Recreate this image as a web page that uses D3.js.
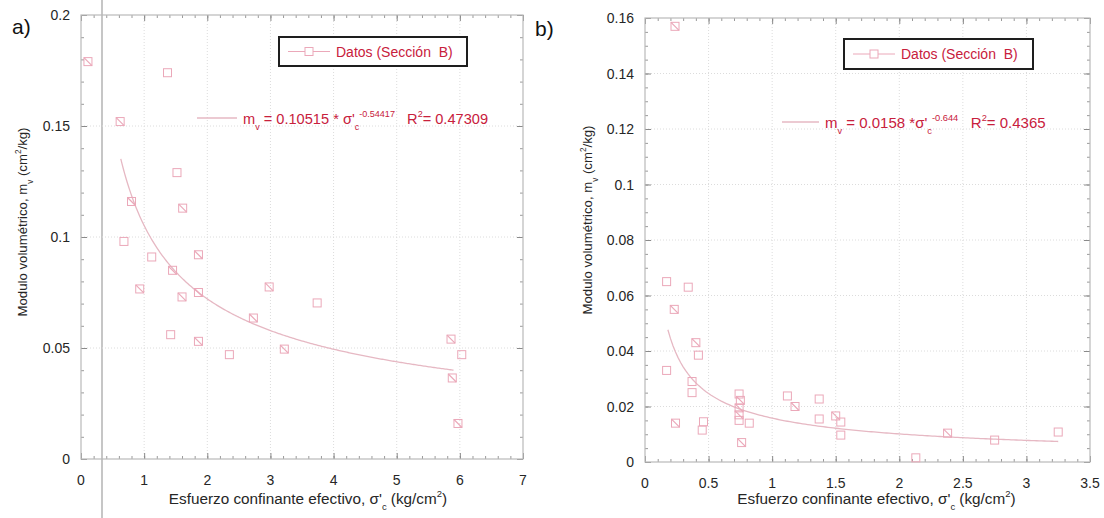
<!DOCTYPE html>
<html>
<head>
<meta charset="utf-8">
<script src="https://cdn.jsdelivr.net/npm/d3@7"></script>
<style>
  body { margin: 0; background: #fff; }
  svg { display: block; }
  text { font-family: "Liberation Sans", Arial, sans-serif; white-space: pre; }
</style>
</head>
<body>
<svg id="chart" width="1104" height="518"></svg>
<script>
// ---------- Panel a) : effective confining stress vs. volumetric modulus ----------
const sigmaA = [0.11, 1.37, 0.62, 1.52, 0.80, 1.61, 0.68, 1.12, 1.86, 1.45, 0.93, 1.60,
                1.86, 1.42, 1.86, 2.35, 2.73, 2.98, 3.74, 3.22, 5.86, 6.03, 5.88, 5.97];
const mvA    = [0.179, 0.174, 0.152, 0.129, 0.116, 0.113, 0.098, 0.091, 0.092, 0.085, 0.0766, 0.073,
                0.075, 0.056, 0.053, 0.047, 0.0635, 0.0775, 0.0703, 0.0495, 0.054, 0.047, 0.0365, 0.016];
const slashA = [1, 0, 1, 0, 1, 1, 0, 0, 1, 1, 1, 1, 1, 0, 1, 0, 1, 1, 0, 1, 1, 0, 1, 1];
const fitCoefA = 0.10515, fitExpA = -0.54417, fitR2A = "0.47309";
const fitRangeA = [0.63, 5.9];
const xTicksA = [0, 1, 2, 3, 4, 5, 6, 7];
const xTickLabelsA = ["0", "1", "2", "3", "4", "5", "6", "7"];
const yTicksA = [0, 0.05, 0.1, 0.15, 0.2];
const yTickLabelsA = ["0", "0.05", "0.1", "0.15", "0.2"];

// ---------- Panel b) ----------
const sigmaB = [0.236, 0.17, 0.34, 0.23, 0.40, 0.42, 0.17, 0.37, 0.37, 0.24, 0.46, 0.45,
                0.74, 0.75, 0.74, 0.74, 0.74, 0.82, 0.76, 1.12, 1.18, 1.37, 1.37, 1.50,
                1.54, 1.54, 2.13, 2.38, 2.75, 3.25];
const mvB    = [0.157, 0.065, 0.063, 0.055, 0.043, 0.0385, 0.033, 0.029, 0.025, 0.014, 0.0145, 0.0115,
                0.0245, 0.0222, 0.0195, 0.017, 0.015, 0.014, 0.007, 0.0238, 0.020, 0.0227, 0.0155, 0.0166,
                0.0144, 0.0097, 0.0015, 0.0104, 0.0079, 0.0108];
const slashB = [1, 0, 0, 1, 1, 0, 0, 0, 0, 1, 0, 0,
                0, 1, 1, 1, 0, 0, 1, 0, 1, 0, 0, 1,
                0, 0, 0, 1, 0, 0];
const fitCoefB = 0.0158, fitExpB = -0.644, fitR2B = "0.4365";
const fitRangeB = [0.18, 3.25];
const xTicksB = [0, 0.5, 1, 1.5, 2, 2.5, 3, 3.5];
const xTickLabelsB = ["0", "0.5", "1", "1.5", "2", "2.5", "3", "3.5"];
const yTicksB = [0, 0.02, 0.04, 0.06, 0.08, 0.1, 0.12, 0.14, 0.16];
const yTickLabelsB = ["0", "0.02", "0.04", "0.06", "0.08", "0.1", "0.12", "0.14", "0.16"];

const legendLabel = "Datos (Sección  B)";

// ---------- styling ----------
const RED = "#c8203c";
const MARK = "#eba8b9";
const FIT = "#e6b8c3";
const BORDER = "#b9b9b9";
const GRID = "#dcdcdc";
const TXT = "#262626";

const svg = d3.select("#chart");
svg.append("rect").attr("width", 1104).attr("height", 518).attr("fill", "#fff");

// Text with sub/superscript runs
function richText(parent, x, y, parts, size, color, extra) {
  const t = parent.append("text").attr("x", x).attr("y", y)
    .attr("font-size", size).attr("fill", color);
  if (extra) extra(t);
  let shift = 0;
  parts.forEach(p => {
    const target = p.sub ? size * 0.42 : p.sup ? -size * 0.48 : 0;
    t.append("tspan")
      .attr("dy", target - shift)
      .attr("font-size", (p.sub || p.sup) ? size * 0.62 : size)
      .text(p.t);
    shift = target;
  });
  return t;
}

function drawPanel(cfg) {
  const x = d3.scaleLinear().domain(cfg.xDomain).range([cfg.left, cfg.right]);
  const y = d3.scaleLinear().domain(cfg.yDomain).range([cfg.bottom, cfg.top]);
  const g = svg.append("g");

  // dotted grid at major ticks
  g.append("g").selectAll("line").data(cfg.xTicks.slice(1, -1)).join("line")
    .attr("x1", d => x(d)).attr("x2", d => x(d))
    .attr("y1", cfg.top).attr("y2", cfg.bottom)
    .attr("stroke", GRID).attr("stroke-dasharray", "1,2");
  g.append("g").selectAll("line").data(cfg.yTicks.slice(1, -1)).join("line")
    .attr("y1", d => y(d)).attr("y2", d => y(d))
    .attr("x1", cfg.left).attr("x2", cfg.right)
    .attr("stroke", GRID).attr("stroke-dasharray", "1,2");

  // axes: ticks pointing inward on all four sides
  const xMinor = d3.range(cfg.xDomain[0], cfg.xDomain[1] + 1e-9, cfg.xMinorStep);
  const yMinor = d3.range(cfg.yDomain[0], cfg.yDomain[1] + 1e-9, cfg.yMinorStep);
  const mkAxis = (axisFn, scale, vals, size) =>
    axisFn(scale).tickValues(vals).tickSize(size).tickFormat("");

  const axes = [
    [d3.axisTop, x, `translate(0,${cfg.bottom})`, "x"],
    [d3.axisBottom, x, `translate(0,${cfg.top})`, "x"],
    [d3.axisRight, y, `translate(${cfg.left},0)`, "y"],
    [d3.axisLeft, y, `translate(${cfg.right},0)`, "y"]
  ];
  axes.forEach(([fn, sc, tr, kind]) => {
    const major = kind === "x" ? cfg.xTicks : cfg.yTicks;
    const minor = kind === "x" ? xMinor : yMinor;
    const gm = g.append("g").attr("transform", tr).call(mkAxis(fn, sc, minor, 3));
    gm.select(".domain").remove();
    gm.selectAll("line").attr("stroke", "#9a9a9a");
    const gM = g.append("g").attr("transform", tr).call(mkAxis(fn, sc, major, 6));
    gM.select(".domain").remove();
    gM.selectAll("line").attr("stroke", "#8a8a8a");
  });

  // frame
  g.append("rect").attr("x", cfg.left).attr("y", cfg.top)
    .attr("width", cfg.right - cfg.left).attr("height", cfg.bottom - cfg.top)
    .attr("fill", "none").attr("stroke", BORDER).attr("stroke-width", 1.2);

  // tick labels
  g.append("g").selectAll("text").data(cfg.xTicks).join("text")
    .attr("x", d => x(d)).attr("y", cfg.bottom + 26)
    .attr("text-anchor", "middle").attr("font-size", 14).attr("fill", TXT)
    .text((d, i) => cfg.xTickLabels[i]);
  g.append("g").selectAll("text").data(cfg.yTicks).join("text")
    .attr("x", cfg.left - 11).attr("y", d => y(d) + 5)
    .attr("text-anchor", "end").attr("font-size", 14).attr("fill", TXT)
    .text((d, i) => cfg.yTickLabels[i]);

  // axis titles
  richText(g, (cfg.left + cfg.right) / 2 + cfg.xTitleDx, 504, [
    { t: "Esfuerzo confinante efectivo, σ'" }, { t: "c", sub: true }, { t: " (kg/cm" },
    { t: "2", sup: true }, { t: ")" }
  ], 15.3, TXT, t => t.attr("text-anchor", "middle"));
  richText(g, 0, 0, [
    { t: "Modulo volumétrico, m" }, { t: "v", sub: true }, { t: " (cm" },
    { t: "2", sup: true }, { t: "/kg)" }
  ], 13.2, TXT, t => t.attr("text-anchor", "middle")
      .attr("transform", `translate(${cfg.yTitleX},${cfg.yTitleY}) rotate(-90)`));

  // fitted power law
  const fitX = d3.range(cfg.fitRange[0], cfg.fitRange[1], 0.02).concat([cfg.fitRange[1]]);
  g.append("path")
    .datum(fitX.map(s => [s, cfg.fitCoef * Math.pow(s, cfg.fitExp)]))
    .attr("d", d3.line().x(d => x(d[0])).y(d => y(d[1])))
    .attr("fill", "none").attr("stroke", FIT).attr("stroke-width", 1.3);

  // data markers
  const pts = cfg.xs.map((s, i) => ({ s, m: cfg.ys[i], slash: cfg.slash[i] }));
  const mk = g.append("g").selectAll("g").data(pts).join("g")
    .attr("transform", d => `translate(${x(d.s)},${y(d.m)})`);
  mk.append("rect").attr("x", -4).attr("y", -4).attr("width", 8).attr("height", 8)
    .attr("fill", "none").attr("stroke", MARK).attr("stroke-width", 1);
  mk.filter(d => d.slash).append("line")
    .attr("x1", -4).attr("y1", -4).attr("x2", 4).attr("y2", 4)
    .attr("stroke", MARK).attr("stroke-width", 1.2);

  // legend box
  const L = cfg.legend;
  g.append("rect").attr("x", L.x).attr("y", L.y).attr("width", L.w).attr("height", L.h)
    .attr("fill", "#fff").attr("stroke", "#1e1e1e").attr("stroke-width", 2);
  g.append("line").attr("x1", L.x + 9).attr("x2", L.x + 51)
    .attr("y1", L.y + L.h / 2).attr("y2", L.y + L.h / 2)
    .attr("stroke", MARK).attr("stroke-width", 1);
  g.append("rect").attr("x", L.x + 26).attr("y", L.y + L.h / 2 - 4)
    .attr("width", 8).attr("height", 8).attr("fill", "#fff").attr("stroke", MARK);
  g.append("text").attr("x", L.x + 57).attr("y", L.y + L.h / 2 + 5)
    .attr("font-size", 14).attr("fill", RED).text(legendLabel);

  // equation with sample line
  const E = cfg.eq;
  g.append("line").attr("x1", E.lineX0).attr("x2", E.lineX1)
    .attr("y1", E.y - 6).attr("y2", E.y - 6)
    .attr("stroke", FIT).attr("stroke-width", 1.3);
  richText(g, E.x, E.y, E.parts, E.size, RED);

  // panel letter
  g.append("text").attr("x", cfg.tag.x).attr("y", cfg.tag.y)
    .attr("font-size", 21).attr("fill", "#111").text(cfg.tag.t);
}

// scanned-page fold line on the left
svg.append("line").attr("x1", 102).attr("x2", 102).attr("y1", 0).attr("y2", 518)
  .attr("stroke", "#c6c6c6").attr("stroke-width", 2);

drawPanel({
  xDomain: [0, 7], yDomain: [0, 0.2],
  left: 81, right: 523, top: 15, bottom: 459,
  xTicks: xTicksA, xTickLabels: xTickLabelsA, yTicks: yTicksA, yTickLabels: yTickLabelsA,
  xMinorStep: 0.2, yMinorStep: 0.01,
  xs: sigmaA, ys: mvA, slash: slashA,
  fitCoef: fitCoefA, fitExp: fitExpA, fitRange: fitRangeA,
  xTitleDx: 6, yTitleX: 27, yTitleY: 222,
  legend: { x: 279, y: 37, w: 188, h: 29 },
  eq: {
    lineX0: 197, lineX1: 237, x: 243, y: 124, size: 14.6,
    parts: [{ t: "m" }, { t: "v", sub: true }, { t: " = " + fitCoefA + " * σ'" }, { t: "c", sub: true },
            { t: String(fitExpA), sup: true }, { t: "   R" }, { t: "2", sup: true }, { t: "= " + fitR2A }]
  },
  tag: { x: 12, y: 34, t: "a)" }
});

drawPanel({
  xDomain: [0, 3.5], yDomain: [0, 0.16],
  left: 645, right: 1090, top: 18, bottom: 462,
  xTicks: xTicksB, xTickLabels: xTickLabelsB, yTicks: yTicksB, yTickLabels: yTickLabelsB,
  xMinorStep: 0.1, yMinorStep: 0.005,
  xs: sigmaB, ys: mvB, slash: slashB,
  fitCoef: fitCoefB, fitExp: fitExpB, fitRange: fitRangeB,
  xTitleDx: 9, yTitleX: 592, yTitleY: 220,
  legend: { x: 844, y: 39, w: 189, h: 30 },
  eq: {
    lineX0: 782, lineX1: 819, x: 825, y: 128, size: 15,
    parts: [{ t: "m" }, { t: "v", sub: true }, { t: " = " + fitCoefB + " *σ'" }, { t: "c", sub: true },
            { t: String(fitExpB), sup: true }, { t: "   R" }, { t: "2", sup: true }, { t: "= " + fitR2B }]
  },
  tag: { x: 535, y: 36, t: "b)" }
});
</script>
</body>
</html>
